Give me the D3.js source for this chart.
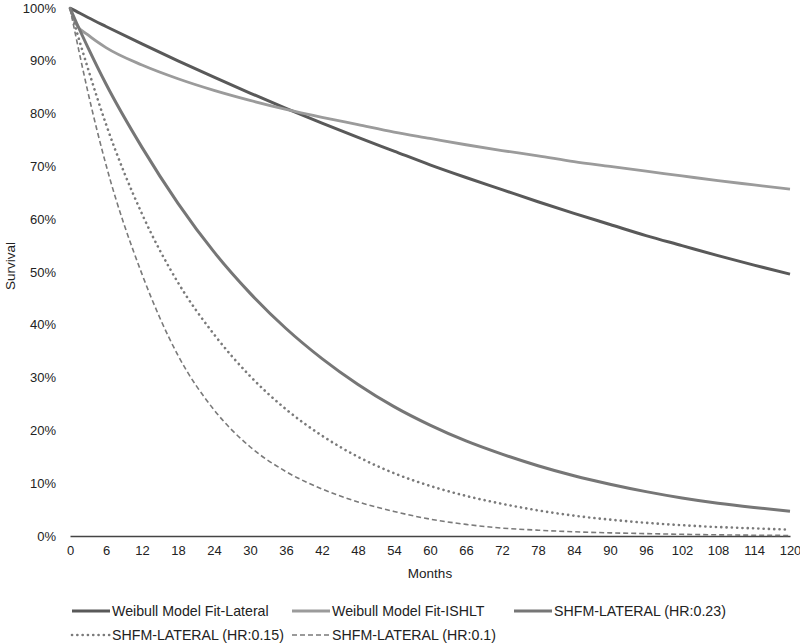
<!DOCTYPE html>
<html><head><meta charset="utf-8">
<script src="https://cdn.jsdelivr.net/npm/d3@7/dist/d3.min.js"></script>
<style>body{margin:0;background:#fff}svg{display:block;font-family:"Liberation Sans",Arial,sans-serif}</style>
</head><body><svg id="c" width="800" height="644"></svg>
<script>
const months = [0,1,3,6,12,18,24,30,36,42,48,54,60,66,72,78,84,90,96,102,108,114,120];
const weibullLateral = [100,99.4,98.2,96.5,93.2,90.0,86.9,83.9,81.0,78.2,75.5,72.9,70.3,67.9,65.6,63.3,61.1,59.0,56.9,55.0,53.1,51.3,49.6];
const weibullISHLT   = [100,97.0,94.9,92.5,89.2,86.6,84.4,82.5,80.8,79.3,77.9,76.5,75.3,74.1,73.0,72.0,70.9,70.0,69.1,68.2,67.3,66.5,65.7];
const shfm023 = [100,97.4,92.5,85.6,73.6,63.0,53.8,46.0,39.3,33.6,28.7,24.5,21.0,18.0,15.5,13.3,11.4,9.8,8.4,7.2,6.2,5.4,4.7];
const shfm015 = [100,96.0,88.5,78.0,61.0,48.0,38.2,30.3,24.0,19.0,15.0,11.9,9.5,7.6,6.1,4.85,3.85,3.1,2.5,2.05,1.7,1.45,1.2];
const shfm010 = [100,94.5,84.0,70.3,49.6,34.2,23.9,16.9,12.2,8.9,6.45,4.65,3.2,2.2,1.5,1.1,0.8,0.6,0.45,0.32,0.22,0.15,0.1];
const seriesNames = ["Weibull Model Fit-Lateral","Weibull Model Fit-ISHLT","SHFM-LATERAL (HR:0.23)","SHFM-LATERAL (HR:0.15)","SHFM-LATERAL (HR:0.1)"];
const xTicks = d3.range(0,121,6);
const yTicks = d3.range(0,101,10);

const styles = [
  {color:"#595959", w:3, dash:null, cap:"butt"},
  {color:"#9b9b9b", w:2.8, dash:null, cap:"butt"},
  {color:"#767676", w:3, dash:null, cap:"butt"},
  {color:"#7a7a7a", w:2.6, dash:"0.1,5.2", cap:"round"},
  {color:"#7a7a7a", w:1.6, dash:"5,3", cap:"butt"}
];
const allValues = [weibullLateral, weibullISHLT, shfm023, shfm015, shfm010];

const svg = d3.select("#c");
const x = d3.scaleLinear().domain([0,120]).range([70,790]);
const y = d3.scaleLinear().domain([0,100]).range([536,8]);

svg.append("g").selectAll("text").data(yTicks).join("text")
  .attr("x",56).attr("y",d=>y(d)).attr("dy","0.35em").attr("text-anchor","end")
  .attr("font-size",13).attr("fill","#222").text(d=>d+"%");

const xa = svg.append("g").attr("transform","translate(0,536)")
  .call(d3.axisBottom(x).tickValues(xTicks).tickSize(0).tickPadding(10));
xa.select(".domain").attr("stroke","#444").attr("stroke-width",1.5);
xa.selectAll("text").attr("font-size",13).attr("fill","#222").attr("font-family","Liberation Sans, Arial, sans-serif");

svg.append("text").attr("x",430).attr("y",573).attr("dy","0.35em").attr("text-anchor","middle")
  .attr("font-size",13.5).attr("fill","#222").text("Months");
svg.append("text").attr("transform","translate(10,266) rotate(-90)").attr("dy","0.35em")
  .attr("text-anchor","middle").attr("font-size",13.5).attr("fill","#222").text("Survival");

const line = d3.line().x(d=>x(d[0])).y(d=>y(d[1])).curve(d3.curveMonotoneX);
allValues.forEach((vals,i)=>{
  const s = styles[i];
  svg.append("path").datum(months.map((m,j)=>[m,vals[j]]))
    .attr("d",line).attr("fill","none").attr("stroke",s.color)
    .attr("stroke-width",s.w).attr("stroke-dasharray",s.dash).attr("stroke-linecap",s.cap)
    .attr("stroke-linejoin","round");
});

const legPos = [[70,611],[290,611],[512,611],[70,635],[290,635]];
seriesNames.forEach((name,i)=>{
  const s = styles[i], [lx,ly] = legPos[i];
  svg.append("line").attr("x1",lx+2).attr("x2",lx+40).attr("y1",ly).attr("y2",ly)
    .attr("stroke",s.color).attr("stroke-width",s.w).attr("stroke-dasharray",s.dash).attr("stroke-linecap",s.cap);
  svg.append("text").attr("x",lx+42).attr("y",ly).attr("dy","0.35em")
    .attr("font-size",14.2).attr("fill","#222").text(name);
});
</script></body></html>
